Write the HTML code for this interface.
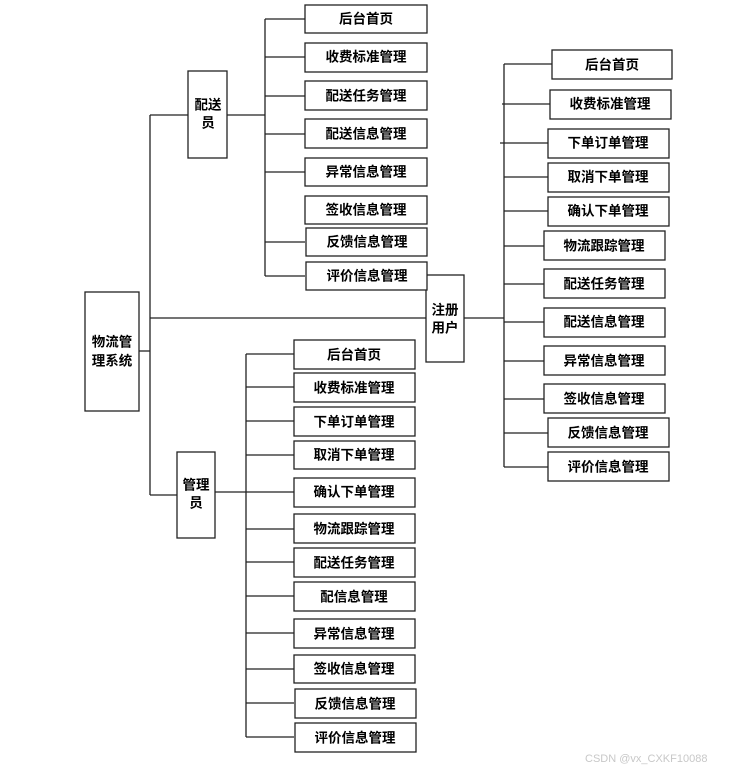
<!DOCTYPE html>
<html><head><meta charset="utf-8"><style>
html,body{margin:0;padding:0;background:#fff;}
svg text{font-family:"Liberation Sans","Noto Sans CJK SC",sans-serif;font-weight:bold;font-size:13.5px;fill:#000;}
</style></head><body>
<svg width="732" height="770" viewBox="0 0 732 770" xmlns="http://www.w3.org/2000/svg">
<g stroke="#222" stroke-width="1.3" fill="none">
<!-- main trunk -->
<line x1="139" y1="351" x2="150" y2="351"/>
<line x1="150" y1="115" x2="150" y2="495"/>
<line x1="150" y1="115" x2="188" y2="115"/>
<line x1="150" y1="318" x2="426" y2="318"/>
<line x1="150" y1="495" x2="177" y2="495"/>
<!-- delivery trunk -->
<line x1="227" y1="115" x2="265" y2="115"/>
<line x1="265" y1="19" x2="265" y2="276"/>
<line x1="265" y1="19" x2="305" y2="19"/>
<line x1="265" y1="57" x2="305" y2="57"/>
<line x1="265" y1="96" x2="305" y2="96"/>
<line x1="265" y1="134" x2="305" y2="134"/>
<line x1="265" y1="172" x2="305" y2="172"/>
<line x1="265" y1="242" x2="305" y2="242"/>
<line x1="265" y1="276" x2="305" y2="276"/>
<!-- user trunk -->
<line x1="464" y1="318" x2="504" y2="318"/>
<line x1="504" y1="64" x2="504" y2="467"/>
<line x1="504" y1="64" x2="552" y2="64"/>
<line x1="502" y1="104" x2="550" y2="104"/>
<line x1="500" y1="143" x2="548" y2="143"/>
<line x1="504" y1="177" x2="548" y2="177"/>
<line x1="504" y1="211" x2="548" y2="211"/>
<line x1="504" y1="246" x2="544" y2="246"/>
<line x1="504" y1="284" x2="544" y2="284"/>
<line x1="504" y1="322" x2="544" y2="322"/>
<line x1="504" y1="361" x2="544" y2="361"/>
<line x1="504" y1="399" x2="544" y2="399"/>
<line x1="504" y1="433" x2="548" y2="433"/>
<line x1="504" y1="467" x2="548" y2="467"/>
<!-- admin trunk -->
<line x1="215" y1="492" x2="246" y2="492"/>
<line x1="246" y1="354" x2="246" y2="737"/>
<line x1="246" y1="354" x2="294" y2="354"/>
<line x1="246" y1="387" x2="294" y2="387"/>
<line x1="246" y1="421" x2="294" y2="421"/>
<line x1="246" y1="455" x2="294" y2="455"/>
<line x1="246" y1="492" x2="294" y2="492"/>
<line x1="246" y1="529" x2="294" y2="529"/>
<line x1="246" y1="562" x2="294" y2="562"/>
<line x1="246" y1="596" x2="294" y2="596"/>
<line x1="246" y1="633" x2="294" y2="633"/>
<line x1="246" y1="669" x2="294" y2="669"/>
<line x1="246" y1="703" x2="294" y2="703"/>
<line x1="246" y1="737" x2="294" y2="737"/>
</g>
<g stroke="#222" stroke-width="1.3" fill="#fff">
<rect x="85" y="292" width="54" height="119"/>
<rect x="188" y="71" width="39" height="87"/>
<rect x="426" y="275" width="38" height="87"/>
<rect x="177" y="452" width="38" height="86"/>
<!-- delivery children -->
<rect x="305" y="5" width="122" height="28"/>
<rect x="305" y="43" width="122" height="29"/>
<rect x="305" y="81" width="122" height="29"/>
<rect x="305" y="119" width="122" height="29"/>
<rect x="305" y="158" width="122" height="28"/>
<rect x="305" y="196" width="122" height="28"/>
<rect x="306" y="228" width="121" height="28"/>
<rect x="306" y="262" width="121" height="28"/>
<!-- user children -->
<rect x="552" y="50" width="120" height="29"/>
<rect x="550" y="90" width="121" height="29"/>
<rect x="548" y="129" width="121" height="29"/>
<rect x="548" y="163" width="121" height="29"/>
<rect x="548" y="197" width="121" height="29"/>
<rect x="544" y="231" width="121" height="29"/>
<rect x="544" y="269" width="121" height="29"/>
<rect x="544" y="308" width="121" height="29"/>
<rect x="544" y="346" width="121" height="29"/>
<rect x="544" y="384" width="121" height="29"/>
<rect x="548" y="418" width="121" height="29"/>
<rect x="548" y="452" width="121" height="29"/>
<!-- admin children -->
<rect x="294" y="340" width="121" height="29"/>
<rect x="294" y="373" width="121" height="29"/>
<rect x="294" y="407" width="121" height="29"/>
<rect x="294" y="441" width="121" height="28"/>
<rect x="294" y="478" width="121" height="29"/>
<rect x="294" y="514" width="121" height="29"/>
<rect x="294" y="548" width="121" height="29"/>
<rect x="294" y="582" width="121" height="29"/>
<rect x="294" y="619" width="121" height="29"/>
<rect x="294" y="655" width="121" height="28"/>
<rect x="295" y="689" width="121" height="29"/>
<rect x="295" y="723" width="121" height="29"/>
</g>
<g text-anchor="middle" dominant-baseline="central">
<text x="112" y="342">物流管</text><text x="112" y="361">理系统</text>
<text x="208" y="105">配送</text><text x="208" y="123">员</text>
<text x="445" y="310">注册</text><text x="445" y="328">用户</text>
<text x="196" y="485">管理</text><text x="196" y="503">员</text>

<text x="366" y="19">后台首页</text>
<text x="366" y="57">收费标准管理</text>
<text x="366" y="96">配送任务管理</text>
<text x="366" y="134">配送信息管理</text>
<text x="366" y="172">异常信息管理</text>
<text x="366" y="210">签收信息管理</text>
<text x="367" y="242">反馈信息管理</text>
<text x="367" y="276">评价信息管理</text>

<text x="612" y="65">后台首页</text>
<text x="610" y="104">收费标准管理</text>
<text x="608" y="143">下单订单管理</text>
<text x="608" y="177">取消下单管理</text>
<text x="608" y="211">确认下单管理</text>
<text x="604" y="246">物流跟踪管理</text>
<text x="604" y="284">配送任务管理</text>
<text x="604" y="322">配送信息管理</text>
<text x="604" y="361">异常信息管理</text>
<text x="604" y="399">签收信息管理</text>
<text x="608" y="433">反馈信息管理</text>
<text x="608" y="467">评价信息管理</text>

<text x="354" y="355">后台首页</text>
<text x="354" y="388">收费标准管理</text>
<text x="354" y="422">下单订单管理</text>
<text x="354" y="455">取消下单管理</text>
<text x="354" y="492">确认下单管理</text>
<text x="354" y="529">物流跟踪管理</text>
<text x="354" y="563">配送任务管理</text>
<text x="354" y="597">配信息管理</text>
<text x="354" y="634">异常信息管理</text>
<text x="354" y="669">签收信息管理</text>
<text x="355" y="704">反馈信息管理</text>
<text x="355" y="738">评价信息管理</text>
</g>
<text x="585" y="762" style="font-weight:normal;font-size:11px;fill:#c8c8c8;">CSDN @vx_CXKF10088</text>
</svg>
</body></html>
